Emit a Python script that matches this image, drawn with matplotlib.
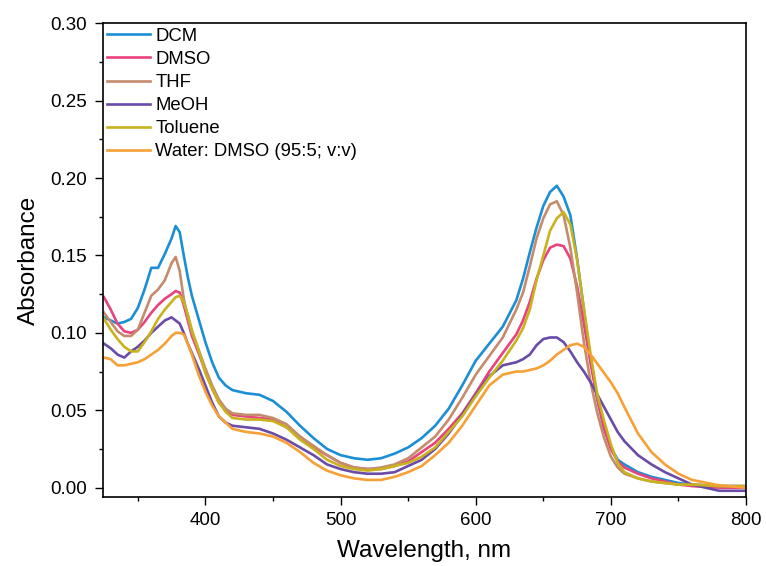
"""UV-Vis absorption spectra in different solvents."""

import matplotlib

matplotlib.use("Agg")
import matplotlib.pyplot as plt
from matplotlib.ticker import MultipleLocator

plt.rcParams["font.family"] = ["Liberation Sans", "DejaVu Sans"]

wavelength = [325, 330, 335, 340, 345, 350, 355, 360, 365, 370, 375, 378, 381, 384, 387, 390,
              395, 400, 405, 410, 415, 420, 430, 440, 450, 460, 470, 480, 490, 500, 510, 520,
              530, 540, 550, 560, 570, 580, 590, 600, 610, 620, 630, 635, 640, 645, 650, 655,
              660, 665, 670, 675, 680, 685, 690, 695, 700, 705, 710, 720, 730, 740, 750, 760,
              780, 800]

dcm = [0.110, 0.108, 0.106, 0.107, 0.109, 0.116, 0.128, 0.142, 0.142, 0.151, 0.161, 0.169, 0.165,
       0.150, 0.136, 0.124, 0.109, 0.094, 0.081, 0.071, 0.066, 0.063, 0.061, 0.060, 0.056, 0.049,
       0.040, 0.032, 0.025, 0.021, 0.019, 0.018, 0.019, 0.022, 0.026, 0.032, 0.040, 0.051, 0.066,
       0.082, 0.093, 0.104, 0.121, 0.135, 0.152, 0.168, 0.182, 0.191, 0.195, 0.188, 0.176, 0.148,
       0.115, 0.083, 0.057, 0.038, 0.026, 0.018, 0.015, 0.010, 0.007, 0.005, 0.003, 0.002, 0.001,
       0.001]

dmso = [0.123, 0.115, 0.106, 0.101, 0.100, 0.102, 0.107, 0.113, 0.118, 0.122, 0.125, 0.127, 0.126,
        0.118, 0.108, 0.098, 0.087, 0.075, 0.064, 0.055, 0.050, 0.047, 0.046, 0.045, 0.044, 0.039,
        0.033, 0.026, 0.021, 0.016, 0.013, 0.012, 0.012, 0.014, 0.017, 0.023, 0.029, 0.038, 0.048,
        0.061, 0.075, 0.087, 0.099, 0.108, 0.120, 0.135, 0.147, 0.155, 0.157, 0.156, 0.148, 0.130,
        0.106, 0.080, 0.057, 0.038, 0.025, 0.017, 0.013, 0.009, 0.006, 0.004, 0.002, 0.001, 0.000,
        0.000]

thf = [0.113, 0.107, 0.101, 0.098, 0.098, 0.102, 0.113, 0.124, 0.128, 0.134, 0.145, 0.149, 0.140,
       0.122, 0.110, 0.100, 0.089, 0.077, 0.066, 0.057, 0.051, 0.048, 0.047, 0.047, 0.045, 0.041,
       0.033, 0.027, 0.021, 0.016, 0.013, 0.012, 0.013, 0.015, 0.019, 0.026, 0.033, 0.044, 0.058,
       0.073, 0.085, 0.097, 0.115, 0.126, 0.143, 0.161, 0.174, 0.183, 0.185, 0.176, 0.155, 0.126,
       0.094, 0.068, 0.048, 0.032, 0.020, 0.013, 0.009, 0.006, 0.004, 0.003, 0.002, 0.002, 0.001,
       0.001]

meoh = [0.093, 0.090, 0.086, 0.084, 0.088, 0.091, 0.095, 0.100, 0.104, 0.108, 0.110, 0.108, 0.106,
        0.100, 0.093, 0.087, 0.077, 0.066, 0.055, 0.046, 0.042, 0.040, 0.039, 0.038, 0.035, 0.031,
        0.026, 0.021, 0.015, 0.012, 0.010, 0.009, 0.009, 0.010, 0.014, 0.018, 0.025, 0.035, 0.047,
        0.060, 0.072, 0.079, 0.081, 0.083, 0.086, 0.092, 0.096, 0.097, 0.097, 0.094, 0.088, 0.081,
        0.075, 0.068, 0.060, 0.052, 0.044, 0.036, 0.030, 0.021, 0.015, 0.010, 0.006, 0.002, -0.002,
        -0.002]

toluene = [0.109, 0.102, 0.096, 0.091, 0.088, 0.088, 0.094, 0.101, 0.109, 0.115, 0.120, 0.123,
           0.124, 0.120, 0.112, 0.102, 0.089, 0.074, 0.064, 0.055, 0.049, 0.045, 0.044, 0.044,
           0.043, 0.039, 0.031, 0.025, 0.018, 0.014, 0.012, 0.011, 0.012, 0.014, 0.016, 0.020,
           0.026, 0.036, 0.046, 0.059, 0.071, 0.082, 0.095, 0.103, 0.115, 0.134, 0.150, 0.166,
           0.174, 0.178, 0.170, 0.147, 0.116, 0.086, 0.060, 0.043, 0.028, 0.016, 0.010, 0.006,
           0.004, 0.003, 0.002, 0.002, 0.001, 0.001]

water_dmso = [0.084, 0.083, 0.079, 0.079, 0.080, 0.081, 0.083, 0.086, 0.089, 0.093, 0.098, 0.100,
              0.100, 0.099, 0.093, 0.086, 0.073, 0.062, 0.053, 0.046, 0.042, 0.038, 0.036, 0.035,
              0.033, 0.029, 0.023, 0.016, 0.011, 0.008, 0.006, 0.005, 0.005, 0.007, 0.010, 0.014,
              0.021, 0.029, 0.040, 0.053, 0.066, 0.073, 0.075, 0.075, 0.076, 0.077, 0.079, 0.082,
              0.086, 0.089, 0.092, 0.093, 0.091, 0.086, 0.080, 0.074, 0.068, 0.061, 0.052, 0.035,
              0.023, 0.015, 0.009, 0.005, 0.0015, 0.000]

labels = ["DCM", "DMSO", "THF", "MeOH", "Toluene", "Water: DMSO (95:5; v:v)"]
colors = ["#1b8fd6", "#e8437c", "#c48b6c", "#6a4ba8", "#c8b31e", "#f7a035"]
series = [dcm, dmso, thf, meoh, toluene, water_dmso]

fig, ax = plt.subplots(figsize=(7.66, 5.66), dpi=100)
fig.subplots_adjust(left=0.134, right=0.974, top=0.959, bottom=0.122)

for values, label, color in zip(series, labels, colors):
    ax.plot(wavelength, values, color=color, lw=1.9, label=label)

ax.set_xlim(324, 800)
ax.set_ylim(-0.006, 0.30)
ax.xaxis.set_major_locator(MultipleLocator(100))
ax.xaxis.set_minor_locator(MultipleLocator(50))
ax.yaxis.set_major_locator(MultipleLocator(0.05))
ax.yaxis.set_minor_locator(MultipleLocator(0.025))
ax.yaxis.set_major_formatter(lambda v, pos: f"{v:.2f}")
ax.tick_params(which="both", direction="out", top=False, right=False, labelsize=13.5,
               width=1, pad=5)
ax.tick_params(which="major", length=6)
ax.tick_params(which="minor", length=3)
for spine in ax.spines.values():
    spine.set_linewidth(1.2)

ax.set_xlabel("Wavelength, nm", fontsize=17.5, labelpad=8)
ax.set_ylabel("Absorbance", fontsize=17.5, labelpad=8)

ax.legend(loc="upper left", bbox_to_anchor=(0.0, 1.0), frameon=False, fontsize=13.3,
          borderaxespad=0.1, borderpad=0.15, handlelength=2.3, handletextpad=0.3,
          labelspacing=0.33)

fig.savefig("out.png", dpi=100)
